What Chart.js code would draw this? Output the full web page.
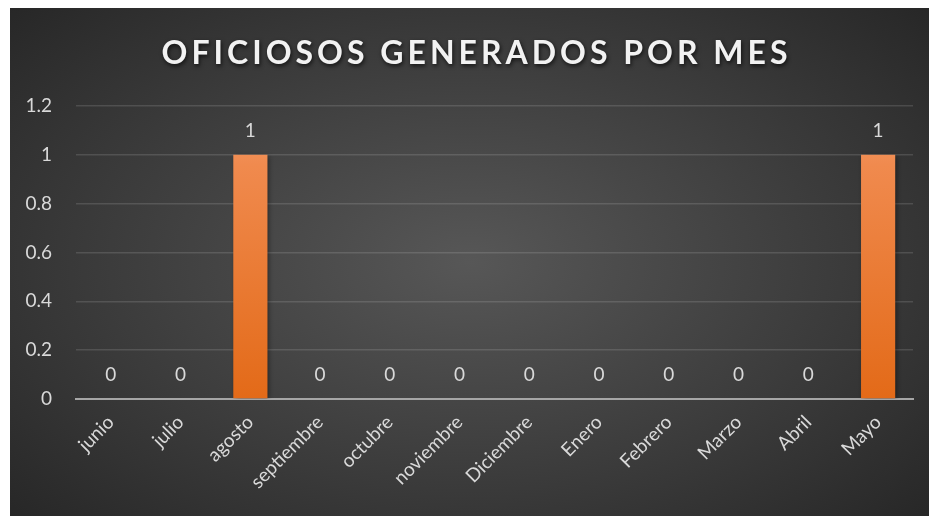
<!DOCTYPE html>
<html>
<head>
<meta charset="utf-8">
<script src="https://cdn.jsdelivr.net/npm/chart.js@4.4.1/dist/chart.umd.min.js"></script>
<style>
  html, body { margin: 0; padding: 0; background: #ffffff; }
  #wrap {
    position: absolute; left: 10px; top: 8px; width: 919px; height: 508px;
    background: radial-gradient(ellipse 70% 75% at 50% 50%, #575757 0%, #3a3a3a 60%, #262626 100%);
  }
  canvas { display: block; }
</style>
</head>
<body>
<div id="wrap"><canvas id="c" width="919" height="508"></canvas></div>
<script>
const titleText = "OFICIOSOS GENERADOS POR MES";
const categories = ["junio", "julio", "agosto", "septiembre", "octubre", "noviembre", "Diciembre", "Enero", "Febrero", "Marzo", "Abril", "Mayo"];
const values = [0, 0, 1, 0, 0, 0, 0, 0, 0, 0, 0, 1];
const yTicks = [0, 0.2, 0.4, 0.6, 0.8, 1, 1.2];

const FONT = "Lato, 'Open Sans', sans-serif";
const TXT = "#d9d9d9";

const titlePlugin = {
  id: 'titleDraw',
  afterDraw(chart) {
    const ctx = chart.ctx;
    ctx.save();
    ctx.font = "bold 32px " + FONT;
    ctx.letterSpacing = "4px";
    ctx.textAlign = "center";
    ctx.textBaseline = "middle";
    ctx.shadowColor = "rgba(0,0,0,0.7)";
    ctx.shadowBlur = 4;
    ctx.shadowOffsetX = 1;
    ctx.shadowOffsetY = 2;
    ctx.fillStyle = "#f2f2f2";
    ctx.fillText(titleText, chart.width / 2 + 7, 46);
    ctx.restore();
  }
};

const labelPlugin = {
  id: 'valueLabels',
  afterDatasetsDraw(chart) {
    const ctx = chart.ctx;
    const meta = chart.getDatasetMeta(0);
    ctx.save();
    ctx.font = "19px " + FONT;
    ctx.fillStyle = TXT;
    ctx.textAlign = "center";
    ctx.textBaseline = "middle";
    meta.data.forEach((bar, i) => {
      ctx.fillText(String(values[i]), bar.x, bar.y - 24);
    });
    ctx.restore();
  }
};

const shadowPlugin = {
  id: 'barShadow',
  beforeDatasetDraw(chart) {
    const ctx = chart.ctx;
    ctx.save();
    ctx.shadowColor = "rgba(0,0,0,0.45)";
    ctx.shadowBlur = 5;
    ctx.shadowOffsetX = 2;
    ctx.shadowOffsetY = 1;
  },
  afterDatasetDraw(chart) {
    chart.ctx.restore();
  }
};

const ctx = document.getElementById('c').getContext('2d');
new Chart(ctx, {
  type: 'bar',
  data: {
    labels: categories,
    datasets: [{
      data: values,
      backgroundColor: (c) => {
        const ch = c.chart;
        const area = ch.chartArea;
        if (!area) return "#ed7d31";
        const g = ch.ctx.createLinearGradient(0, area.top, 0, area.bottom);
        g.addColorStop(0, "#f4a070");
        g.addColorStop(0.2, "#f08a4e");
        g.addColorStop(1, "#e36a18");
        return g;
      },
      borderWidth: 0,
      barPercentage: 0.49,
      categoryPercentage: 1.0
    }]
  },
  options: {
    responsive: false,
    animation: false,
    devicePixelRatio: 1,
    layout: { padding: { top: 98, right: 16, left: 0, bottom: 0 } },
    plugins: {
      legend: { display: false },
      title: { display: false },
      tooltip: { enabled: false }
    },
    scales: {
      x: {
        grid: { display: false, drawTicks: false },
        border: { display: true, color: "#a6a6a6", width: 2 },
        ticks: {
          color: TXT,
          font: { family: FONT, size: 19 },
          minRotation: 45,
          maxRotation: 45,
          padding: 12,
          autoSkip: false
        },
        afterFit(axis) { axis.height = 117; }
      },
      y: {
        min: 0,
        max: 1.2,
        afterBuildTicks(axis) { axis.ticks = yTicks.map(v => ({ value: v })); },
        grid: {
          color: (c) => c.tick && c.tick.value === 0 ? "rgba(0,0,0,0)" : "rgba(255,255,255,0.13)",
          lineWidth: 1.5,
          drawTicks: false
        },
        border: { display: false },
        ticks: {
          color: TXT,
          font: { family: FONT, size: 19 },
          padding: 24,
          callback: (v) => String(Math.round(v * 10) / 10)
        },
        afterFit(axis) { axis.width = 66; }
      }
    }
  },
  plugins: [shadowPlugin, labelPlugin, titlePlugin]
});
</script>
</body>
</html>
